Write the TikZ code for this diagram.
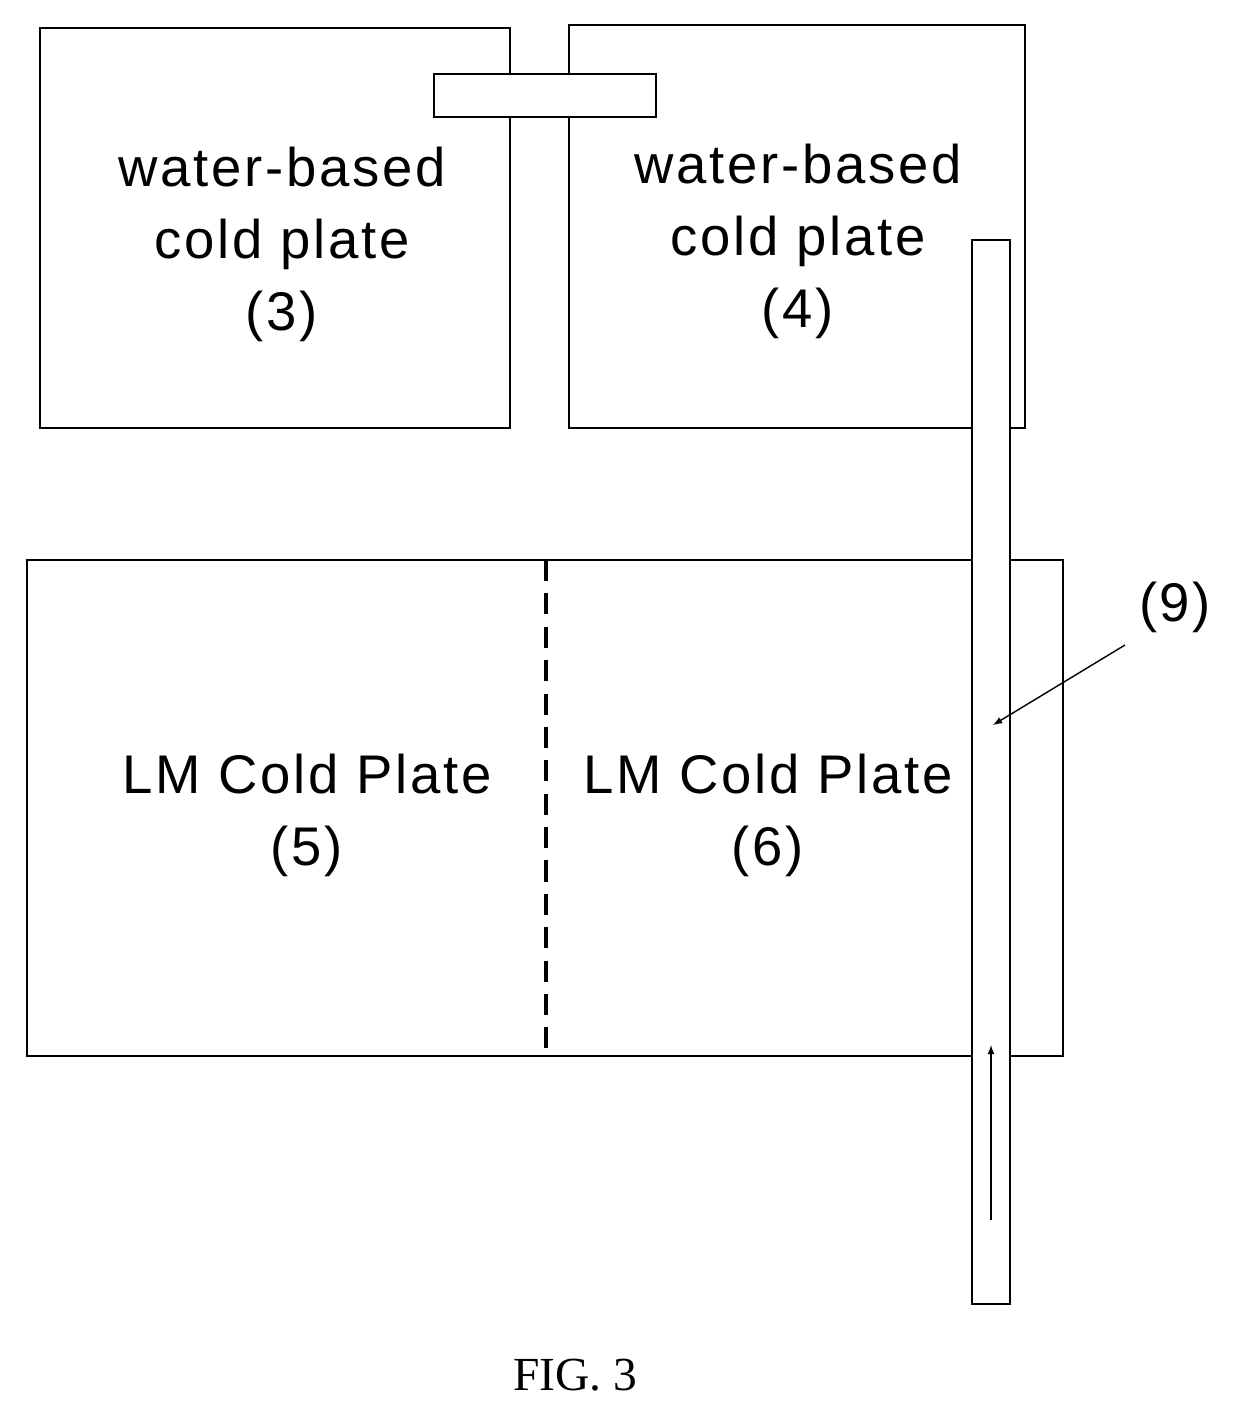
\documentclass[tikz,border=0pt]{standalone}
\usepackage{fontspec}
\setmainfont{Liberation Sans}[LetterSpace=5]
\newfontfamily\figfont{Liberation Serif}
\begin{document}
\begin{tikzpicture}[x=0.02cm,y=-0.02cm,
  box/.style={draw,line width=1.5pt,fill=white},
  lbl/.style={font=\fontsize{31}{41}\selectfont,align=center,inner sep=0}]
\useasboundingbox (0,0) rectangle (1238,1411);
\draw[box] (40,28) rectangle (510,428);
\draw[box] (569,25) rectangle (1025,428);
\draw[box] (27,560) rectangle (1063,1056);
\draw[line width=2.5pt,dash pattern=on 12pt off 7pt] (546,560) -- (546,1056);
\node[box,minimum width=4.44cm,minimum height=0.86cm,inner sep=0] (conn) at (545,95.5) {};
\node[box,minimum width=0.76cm,minimum height=21.28cm,inner sep=0] (pipe) at (991,772) {};
\node[lbl] (t3) at (282,244) {water-based\\cold plate\\(3)};
\node[lbl] (t4) at (798,241) {water-based\\cold plate\\(4)};
\node[lbl] (t5) at (307,815) {LM Cold Plate\\(5)};
\node[lbl] (t6) at (768,815) {LM Cold Plate\\(6)};
\node[lbl] (l9) at (1175,607) {(9)};
\coordinate (a1) at (1125,645);
\coordinate (a2) at (993,725);
\draw[-latex,line width=0.8pt] (a1) -- (a2);
\coordinate (f1) at (991,1220);
\coordinate (f2) at (991,1045);
\draw[-latex,line width=0.8pt] (f1) -- (f2);
\node[font=\figfont\fontsize{27}{30}\selectfont] (fig) at (575,1375) {FIG. 3};
\end{tikzpicture}
\end{document}
